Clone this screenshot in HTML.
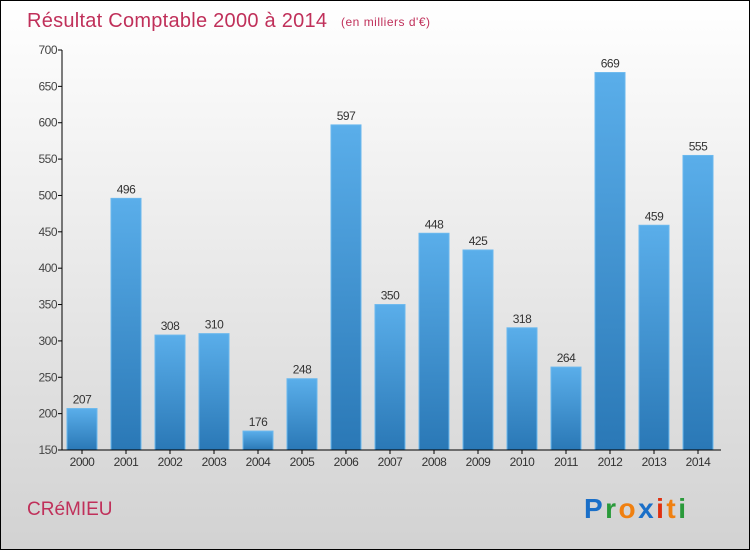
<!DOCTYPE html>
<html><head><meta charset="utf-8"><style>
body{margin:0}
#c{width:748px;height:548px;border:1px solid #000;background:linear-gradient(#ffffff,#d2d2d2);position:relative;font-family:"Liberation Sans",sans-serif;overflow:hidden}
svg{position:absolute;left:0;top:0}
</style></head><body>
<div id="c">
<svg id="s" width="748" height="548">
<defs><linearGradient id="g" x1="0" y1="0" x2="0" y2="1"><stop offset="0" stop-color="#5aaeea"/><stop offset="1" stop-color="#2a78b6"/></linearGradient></defs>
<text x="26" y="26" font-size="20" fill="#c0305a" textLength="300">Résultat Comptable 2000 à 2014</text>
<text x="340" y="25" font-size="12" fill="#c0305a" textLength="89">(en milliers d'€)</text>
<text x="26" y="514" font-size="19" fill="#c0305a">CRéMIEU</text>
<text x="583" y="517" font-size="28" font-weight="bold" textLength="102"><tspan fill="#1a6fc8">P</tspan><tspan fill="#2a9a3a">r</tspan><tspan fill="#f08010">o</tspan><tspan fill="#1a6fc8">x</tspan><tspan fill="#e03010">i</tspan><tspan fill="#f08010">t</tspan><tspan fill="#2a9a3a">i</tspan></text>
</svg></div>
<script>
const years=["2000","2001","2002","2003","2004","2005","2006","2007","2008","2009","2010","2011","2012","2013","2014"];
const values=[207,496,308,310,176,248,597,350,448,425,318,264,669,459,555];
const yTicks=[150,200,250,300,350,400,450,500,550,600,650,700];
const s=document.getElementById('s');const NS='http://www.w3.org/2000/svg';
function y(v){return 449-(v-150)*(400/550);}
function x(i){return 81+i*44;}
function mk(t,a,txt){const e=document.createElementNS(NS,t);for(const k in a)e.setAttribute(k,a[k]);if(txt!==undefined)e.textContent=txt;s.appendChild(e);return e;}
yTicks.forEach(v=>{
 const t=mk('text',{x:56,y:y(v)+4,'font-size':12,fill:'#444','text-anchor':'end','letter-spacing':'-0.5'},v);
 
 
 mk('line',{x1:57,x2:61,y1:y(v),y2:y(v),stroke:'#000'});
});
values.forEach((v,i)=>{
 const r=mk('rect',{x:x(i)-15,y:y(v),width:30,height:449-y(v),fill:'url(#g)',stroke:'#6ab8ee','stroke-width':1});
 
 
 const l=mk('text',{x:x(i),y:y(v)-5,'font-size':12,fill:'#333','text-anchor':'middle','letter-spacing':'-0.5'},v);
 
 
 const c=mk('text',{x:x(i),y:465,'font-size':12,fill:'#333','text-anchor':'middle','letter-spacing':'-0.5'},years[i]);
 
 
 mk('line',{x1:x(i),x2:x(i),y1:449,y2:453,stroke:'#000'});
});
const ya=mk('line',{x1:61,x2:61,y1:y(700),y2:449,stroke:'#000'});


const xa=mk('line',{x1:61,x2:720,y1:449,y2:449,stroke:'#000'});


</script>
</body></html>
